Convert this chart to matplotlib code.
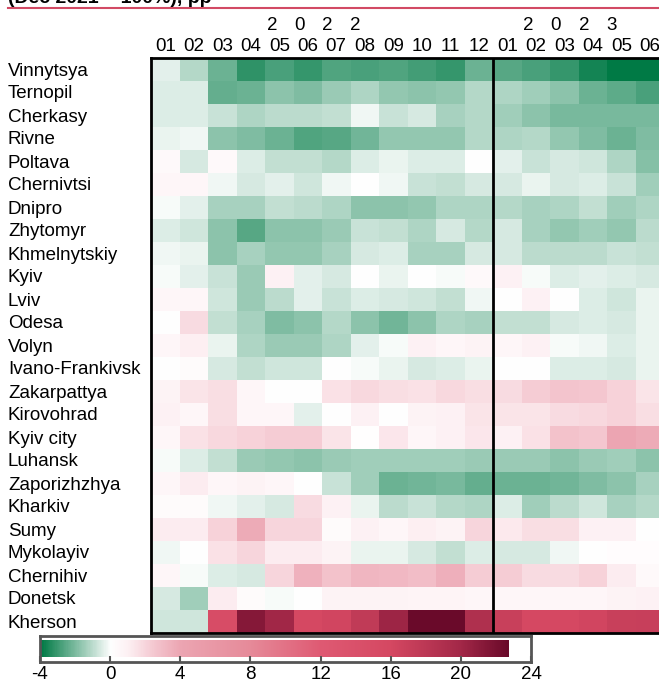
import numpy as np
import matplotlib
matplotlib.use("Agg")
import matplotlib.pyplot as plt
from matplotlib.colors import LinearSegmentedColormap, Normalize
from matplotlib.lines import Line2D

plt.rcParams['font.family'] = ['Liberation Sans', 'DejaVu Sans']

title = "(Dec 2021 = 100%), pp"

months = ["01", "02", "03", "04", "05", "06", "07", "08", "09", "10", "11", "12",
          "01", "02", "03", "04", "05", "06"]
years = ["2022", "2023"]

regions = ["Vinnytsya", "Ternopil", "Cherkasy", "Rivne", "Poltava", "Chernivtsi",
           "Dnipro", "Zhytomyr", "Khmelnytskiy", "Kyiv", "Lviv", "Odesa", "Volyn",
           "Ivano-Frankivsk", "Zakarpattya", "Kirovohrad", "Kyiv city", "Luhansk",
           "Zaporizhzhya", "Kharkiv", "Sumy", "Mykolayiv", "Chernihiv", "Donetsk",
           "Kherson"]

# pp change per region, Jan 2022 .. Jun 2023
vinnytsya = [-0.39, -1.11, -2.31, -3.17, -2.75, -3.09, -2.71, -2.82, -2.71, -2.90, -3.09, -2.24, -2.62, -2.82, -3.12, -3.59, -4.00, -3.90]
ternopil = [-0.55, -0.55, -2.34, -2.32, -1.76, -1.96, -1.55, -1.19, -1.66, -1.76, -1.65, -1.15, -1.19, -1.40, -1.80, -2.24, -2.53, -2.78]
cherkasy = [-0.55, -0.55, -0.86, -1.27, -1.05, -1.05, -0.89, -0.20, -0.86, -0.61, -1.36, -1.11, -1.49, -1.77, -2.09, -2.12, -2.12, -2.05]
rivne = [-0.33, -0.20, -1.74, -1.99, -2.31, -2.67, -2.62, -2.21, -1.62, -1.62, -1.62, -1.15, -1.21, -1.16, -1.62, -1.93, -2.24, -1.99]
poltava = [0.47, -0.61, 0.40, -0.55, -0.89, -0.94, -1.11, -0.46, -0.28, -0.46, -0.50, 0.00, -0.36, -0.82, -0.60, -0.68, -1.19, -1.82]
chernivtsi = [0.67, 0.67, -0.20, -0.66, -0.36, -0.75, -0.20, 0.00, -0.17, -0.86, -0.89, -0.61, -0.64, -0.28, -0.61, -0.50, -0.85, -1.40]
dnipro = [-0.14, -0.41, -1.32, -1.32, -0.97, -1.00, -1.24, -1.77, -1.77, -1.62, -1.22, -1.22, -1.15, -1.33, -1.27, -0.94, -1.40, -1.21]
zhytomyr = [-0.55, -0.68, -1.79, -2.59, -1.74, -1.80, -1.60, -0.86, -0.94, -1.27, -0.61, -1.15, -0.60, -1.33, -1.68, -1.40, -1.68, -1.05]
khmelnytskiy = [-0.20, -0.31, -1.71, -1.30, -1.62, -1.62, -1.30, -0.61, -0.49, -1.30, -1.33, -0.61, -0.66, -1.05, -1.05, -1.05, -0.86, -0.89]
kyiv = [-0.14, -0.36, -0.86, -1.55, 0.93, -0.36, -0.66, 0.00, -0.31, 0.00, -0.13, 0.47, 1.00, -0.13, -0.49, -0.36, -0.49, -0.66]
lviv = [0.60, 0.60, -0.75, -1.55, -1.05, -0.36, -0.86, -0.49, -0.66, -0.75, -0.89, -0.20, 0.00, 0.93, 0.00, -0.49, -0.75, -0.31]
odesa = [0.00, 1.79, -0.94, -1.30, -2.00, -1.80, -1.11, -1.71, -2.15, -1.80, -1.24, -1.36, -0.94, -0.94, -0.66, -0.49, -0.66, -0.31]
volyn = [0.60, 1.07, -0.31, -1.24, -1.55, -1.55, -1.19, -0.36, -0.13, 0.93, 0.60, 0.80, 0.60, 0.93, -0.13, -0.20, -0.55, -0.27]
ivano_frankivsk = [0.00, 0.33, -0.66, -0.94, -0.75, -0.75, 0.00, -0.13, -0.31, -0.66, -0.55, -0.28, 0.00, 0.00, -0.49, -0.55, -0.66, -0.27]
zakarpattya = [0.80, 1.46, 1.71, 0.67, 0.00, 0.00, 1.54, 1.93, 1.68, 1.61, 1.86, 1.68, 1.82, 2.29, 2.64, 2.50, 2.14, 1.46]
kirovohrad = [1.00, 0.60, 1.64, 0.60, 0.60, -0.36, 0.00, 1.00, 0.00, 0.80, 1.00, 1.46, 1.46, 1.46, 1.75, 1.86, 2.11, 1.71]
kyiv_city = [0.67, 1.61, 1.86, 2.14, 2.36, 2.29, 1.46, 0.13, 1.39, 0.67, 1.00, 1.39, 1.00, 1.61, 2.68, 2.55, 4.05, 3.82]
luhansk = [-0.14, -0.55, -0.94, -1.55, -1.68, -1.80, -1.55, -1.49, -1.40, -1.49, -1.49, -1.55, -1.55, -1.55, -1.74, -1.55, -1.49, -1.74]
zaporizhzhya = [0.67, 1.18, 0.67, 0.80, 0.67, 0.00, -0.83, -1.49, -2.31, -2.21, -2.09, -2.37, -2.24, -2.24, -2.21, -1.93, -1.80, -1.36]
kharkiv = [0.33, 0.33, -0.20, -0.41, -0.66, 1.82, 0.93, -0.28, -1.05, -0.82, -1.11, -1.24, -0.55, -1.49, -1.05, -0.74, -1.33, -1.11]
sumy = [1.18, 1.18, 2.14, 3.80, 2.00, 2.00, 0.33, 1.00, 0.60, 1.07, 0.80, 2.00, 1.25, 1.68, 1.68, 1.00, 1.00, 0.00]
mykolayiv = [-0.20, 0.00, 1.54, 2.00, 1.18, 1.18, 0.80, -0.31, -0.31, -0.66, -0.94, -0.55, -0.66, -0.66, -0.20, 0.00, 0.20, 0.20]
chernihiv = [0.67, -0.14, -0.55, -0.66, 2.00, 3.50, 2.68, 3.27, 3.14, 2.95, 3.59, 2.29, 2.29, 1.75, 1.75, 2.14, 1.18, 0.47]
donetsk = [-0.66, -1.43, 1.18, 0.33, -0.13, 0.00, 0.80, 0.87, 0.87, 0.73, 0.73, 0.67, 0.67, 0.67, 0.67, 0.67, 0.87, 1.00]
kherson = [-0.75, -0.75, 15.0, 21.4, 20.0, 16.0, 16.3, 17.6, 20.3, 22.7, 22.7, 19.0, 17.0, 16.0, 16.0, 16.3, 17.0, 17.1]

values = [vinnytsya, ternopil, cherkasy, rivne, poltava, chernivtsi, dnipro,
          zhytomyr, khmelnytskiy, kyiv, lviv, odesa, volyn, ivano_frankivsk,
          zakarpattya, kirovohrad, kyiv_city, luhansk, zaporizhzhya, kharkiv,
          sumy, mykolayiv, chernihiv, donetsk, kherson]

colorbar_ticks = [-4, 0, 4, 8, 12, 16, 20, 24]

# diverging scale: green below zero, white at zero, pink to maroon above
vmin, vmax = -4.0, 22.7
cmap_stops = [-4.0, 0.0, 1.0, 2.5, 4.0, 8.0, 12.0, 16.0, 20.0, 22.7]
cmap_colors = ["#007a45", "#ffffff", "#fdf0f3", "#f4c6cf", "#eca5b2",
               "#e68a99", "#df5a73", "#d54862", "#a32848", "#6a0a2a"]
cmap = LinearSegmentedColormap.from_list(
    "pp", list(zip([(s - vmin) / (vmax - vmin) for s in cmap_stops], cmap_colors)))
norm = Normalize(vmin=vmin, vmax=vmax)

W, H = 659, 687
fig = plt.figure(figsize=(W / 100, H / 100), dpi=100)
FS = 13.5

# heatmap
ax = fig.add_axes([151 / W, 1 - 632.5 / H, 513 / W, 575 / H])
data = np.array(values)
ax.pcolormesh(np.arange(len(months) + 1), np.arange(len(regions) + 1), data,
              cmap=cmap, norm=norm)
ax.set_xlim(0, len(months))
ax.set_ylim(len(regions), 0)

ax.xaxis.tick_top()
ax.set_xticks(np.arange(len(months)) + 0.5)
ax.set_xticklabels(months)
ax.tick_params(axis="x", length=0, pad=1.5, labelsize=FS)
ax.set_yticks(np.arange(len(regions)) + 0.5)
ax.set_yticklabels(regions)
ax.tick_params(axis="y", length=0, pad=103, labelsize=FS)
for lbl in ax.get_yticklabels():
    lbl.set_horizontalalignment("left")

for side in ("left", "top", "bottom"):
    ax.spines[side].set_linewidth(2)
    ax.spines[side].set_color("black")
ax.spines["right"].set_visible(False)
ax.axvline(12, color="black", lw=2)

# spaced-out year headers above the month labels
year_starts = [4.24, 13.23]
for yr, x0 in zip(years, year_starts):
    for i, ch in enumerate(yr):
        ax.text(x0 + i * 0.98, 1 + (57.5 - 25) / 575, ch, transform=ax.get_xaxis_transform(),
                ha="center", va="center", fontsize=FS)

# title (partially above the canvas) and its rule
fig.text(8 / W, 1 - 3.3 / H, title, fontsize=14, fontweight="bold",
         ha="left", va="baseline")
fig.add_artist(Line2D([8 / W, 1.0], [1 - 8.3 / H, 1 - 8.3 / H],
                      transform=fig.transFigure, color="#d24a64", lw=1.5))

# colour bar
cax = fig.add_axes([40 / W, 1 - 662 / H, 491 / W, 26 / H])
grad = np.linspace(vmin, vmax, 600)[None, :]
cax.imshow(grad, cmap=cmap, norm=norm, aspect="auto",
           extent=(vmin, vmax, 0.2, 0.84), interpolation="bilinear")
cax.set_xlim(colorbar_ticks[0], colorbar_ticks[-1])
cax.set_ylim(0, 1)
cax.set_yticks([])
cax.set_xticks(colorbar_ticks)
cax.set_xticklabels([str(t) for t in colorbar_ticks])
cax.tick_params(axis="x", direction="in", length=4.0, width=1.5,
                color="#555555", labelsize=FS, pad=3)
for sp in cax.spines.values():
    sp.set_linewidth(2)
    sp.set_color("#555555")

fig.savefig("out.png", dpi=100)
